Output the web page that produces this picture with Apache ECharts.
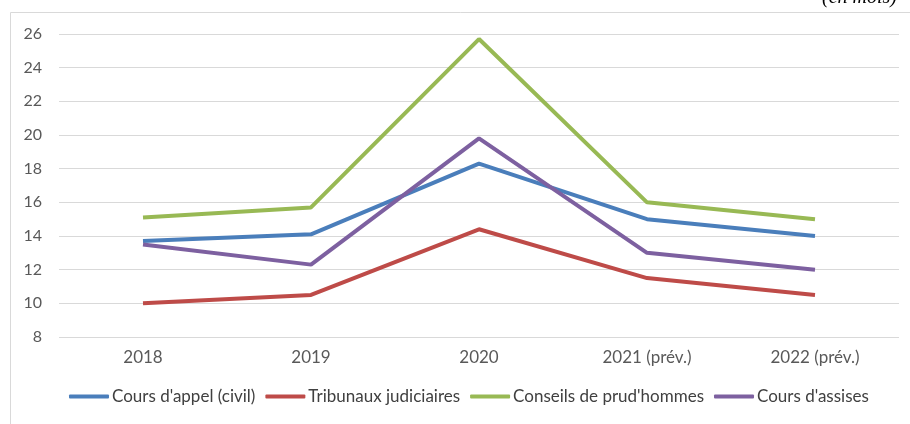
<!DOCTYPE html>
<html>
<head>
<meta charset="utf-8">
<script src="https://cdn.jsdelivr.net/npm/echarts@6/dist/echarts.min.js"></script>
<style>
  html, body { margin: 0; padding: 0; background: #fff; }
  #chart { width: 910px; height: 424px; }
</style>
</head>
<body>
<div id="chart"></div>
<script>
// années
var years = ['2018', '2019', '2020', '2021 (prév.)', '2022 (prév.)'];
var seriesNames = ["Cours d'appel (civil)", 'Tribunaux judiciaires', "Conseils de prud'hommes", "Cours d'assises"];
var coursAppel = [13.7, 14.1, 18.3, 15.0, 14.0];
var tribunaux = [10.0, 10.5, 14.4, 11.5, 10.5];
var prudhommes = [15.1, 15.7, 25.7, 16.0, 15.0];
var assises = [13.5, 12.3, 19.8, 13.0, 12.0];
var colors = ['#4a7ebb', '#be4b48', '#98b954', '#7d60a0'];

var font = 'Lato, "Open Sans", sans-serif';
var chart = echarts.init(document.getElementById('chart'));

var dataList = [coursAppel, tribunaux, prudhommes, assises];
var series = [];
dataList.forEach(function (d, i) {
  series.push({
    name: seriesNames[i],
    type: 'line',
    data: d,
    symbol: 'none',
    lineStyle: { width: 4, color: colors[i] },
    itemStyle: { color: colors[i] }
  });
});

chart.setOption({
  animation: false,
  color: colors,
  graphic: [
    {
      type: 'rect',
      shape: { x: 10.5, y: 12.5, width: 1000, height: 500 },
      style: { fill: 'none', stroke: '#d9d9d9', lineWidth: 1 }
    },
    {
      type: 'text',
      left: 822, top: -12,
      style: { text: '(en mois)', font: 'italic 20px "Liberation Serif", serif', fill: '#000' }
    }
  ],
  grid: { left: 59, right: 11, top: 34, bottom: 87 },
  legend: {
    bottom: 14,
    left: 64,
    itemWidth: 40,
    itemHeight: 4,
    itemGap: 10,
    icon: 'roundRect',
    textStyle: { fontFamily: font, fontSize: 17, color: '#404040', padding: [0, 0, 0, -2] },
    data: seriesNames
  },
  xAxis: {
    type: 'category',
    data: years,
    boundaryGap: true,
    axisLine: { show: false },
    axisTick: { show: false },
    axisLabel: { fontFamily: font, fontSize: 17, color: '#595959', margin: 12 }
  },
  yAxis: {
    type: 'value',
    min: 8, max: 26, interval: 2,
    axisLine: { show: false },
    axisTick: { show: false },
    axisLabel: { fontFamily: font, fontSize: 16, color: '#595959', margin: 17 },
    splitLine: { lineStyle: { color: '#d9d9d9', width: 1 } }
  },
  series: series
});
</script>
</body>
</html>
